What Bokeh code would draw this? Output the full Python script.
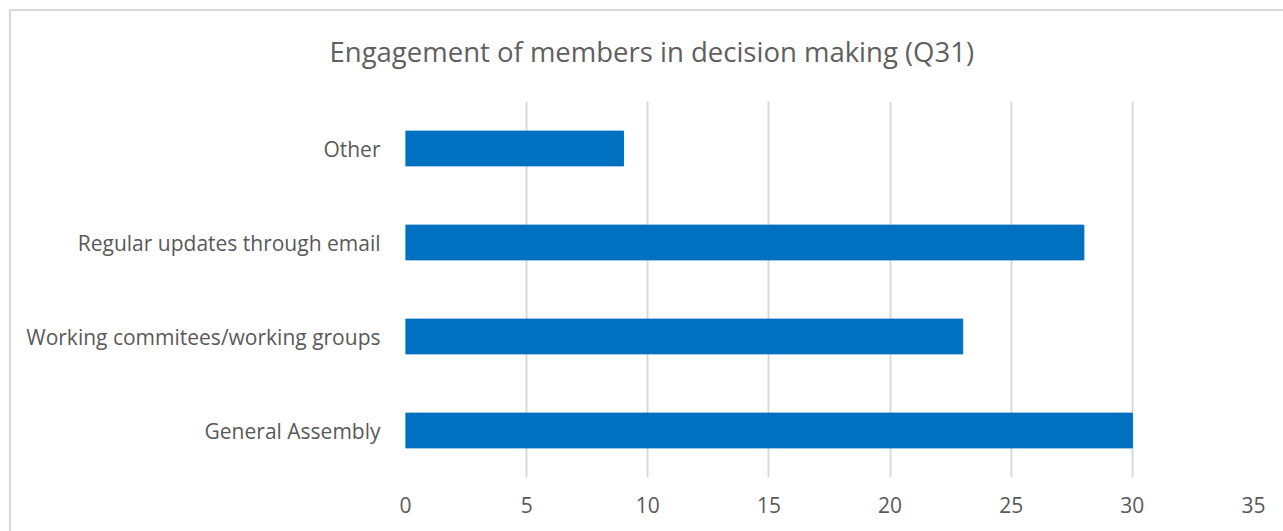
from bokeh.plotting import figure
from bokeh.models import Range1d, FactorRange, Title
from bokeh.embed import file_html
from bokeh.resources import INLINE

categories = ["General Assembly", "Working commitees/working groups",
              "Regular updates through email", "Other"]
values = [30, 23, 28, 9]
x_ticks = [0, 5, 10, 15, 20, 25, 30, 35]
title_text = "Engagement of members in decision making (Q31)"

FONT = "Open Sans"
TXT = "#595959"

p = figure(width=1274, height=531, output_backend="svg", toolbar_location=None,
           y_range=FactorRange(*categories, range_padding=0),
           x_range=Range1d(0, 35),
           min_border_left=396, min_border_right=30,
           min_border_top=101, min_border_bottom=54)
p.margin = (0, 0, 0, 9)
p.border_fill_color = None
p.styles = {
    "background": ("linear-gradient(#d9d9d9, #d9d9d9) no-repeat 0px 9px / 100% 2px, "
                   "linear-gradient(#d9d9d9, #d9d9d9) no-repeat 0px 9px / 2px 100%, "
                   "#ffffff"),
}
p.outline_line_color = None

p.hbar(y=categories, right=values, left=0, height=0.37, color="#0070C0")

t = Title(text=title_text, align="left", offset=-76, vertical_align="middle",
          text_font=FONT, text_font_size="27.5px", text_font_style="normal",
          text_color="#606060", standoff=62)
p.add_layout(t, "above")

p.xaxis.ticker = x_ticks
p.xaxis.axis_line_color = None
p.xaxis.major_tick_line_color = None
p.xaxis.minor_tick_line_color = None
p.xaxis.major_label_standoff = 13
p.xaxis.major_label_text_font = FONT
p.xaxis.major_label_text_font_size = "21px"
p.xaxis.major_label_text_color = TXT

p.yaxis.axis_line_color = None
p.yaxis.major_tick_line_color = None
p.yaxis.minor_tick_line_color = None
p.yaxis.major_label_standoff = 19
p.yaxis.major_label_text_font = FONT
p.yaxis.major_label_text_font_size = "21px"
p.yaxis.major_label_text_color = TXT

p.xgrid.grid_line_color = "#d9d9d9"
p.xgrid.grid_line_width = 2
p.ygrid.grid_line_color = None

open("out.html", "w").write(file_html(p, INLINE))
